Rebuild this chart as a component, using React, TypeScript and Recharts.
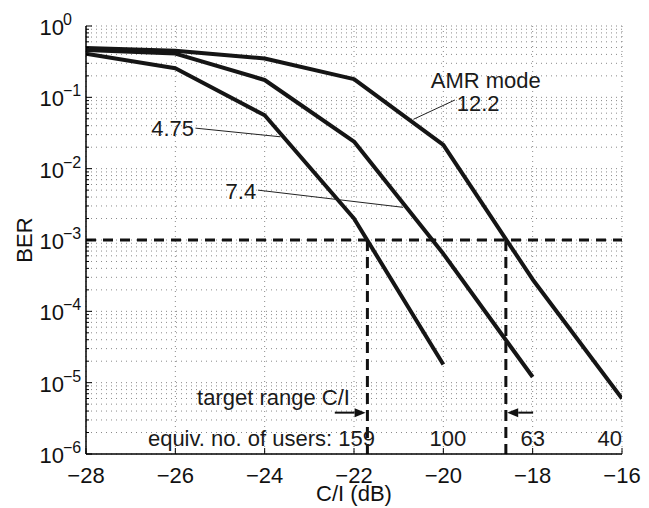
import React from 'react';
import { LineChart, Line, XAxis, YAxis, CartesianGrid, ReferenceLine, ReferenceDot } from 'recharts';

const FONT = '"Liberation Sans", Arial, Helvetica, sans-serif';

// C/I (dB) sample points
const cirDb = [-28, -26, -24, -22, -20, -18, -16];
// BER per AMR mode
const ber475 = [0.41, 0.255, 0.056, 2.0e-3, 1.8e-5];
const ber74 = [0.46, 0.41, 0.175, 0.024, 6.4e-4, 1.2e-5];
const ber122 = [0.49, 0.45, 0.35, 0.18, 0.0215, 2.8e-4, 6.0e-6];

const xTicks = [-28, -26, -24, -22, -20, -18, -16];
const decadeExps = [-6, -5, -4, -3, -2, -1, 0];
const minorMults = [2, 3, 4, 5, 6, 7, 8, 9];

const targetBer = 1e-3;
const targetRange = [-21.7, -18.6];
const userCounts = ['equiv. no. of users: 159', '100', '63', '40'];
const userX = [-21.53, -19.9, -18.0, -16.0];
const userAnchor = ['end', 'middle', 'middle', 'end'];
const userY = 1.29e-6;

const yTicks: number[] = [];
decadeExps.forEach((e) => {
  yTicks.push(Math.pow(10, e));
  if (e < 0) minorMults.forEach((m) => yTicks.push(m * Math.pow(10, e)));
});

const toPts = (ys: number[]) => ys.map((y, i) => ({ x: cirDb[i], y }));
const s475 = toPts(ber475);
const s74 = toPts(ber74);
const s122 = toPts(ber122);

const isDecade = (v: number) => {
  const l = Math.log10(v);
  return Math.abs(l - Math.round(l)) < 1e-9;
};
const minus = (n: number) => (n < 0 ? '\u2212' + Math.abs(n) : String(n));

const BottomTick = (p: any) => {
  const { x, y, payload } = p;
  return (
    <g>
      <line x1={x} y1={y} x2={x} y2={y - 6} stroke="#000" strokeWidth={1} />
      <text x={x} y={y + 29} textAnchor="middle" fontSize={22} fontFamily={FONT} fill="#111">
        {minus(payload.value)}
      </text>
    </g>
  );
};

const TopTick = (p: any) => {
  const { x, y } = p;
  return <line x1={x} y1={y} x2={x} y2={y + 6} stroke="#000" strokeWidth={1} />;
};

const LeftTick = (p: any) => {
  const { x, y, payload } = p;
  const v = payload.value;
  if (!isDecade(v)) return <line x1={x} y1={y} x2={x + 3} y2={y} stroke="#000" strokeWidth={1} />;
  const e = Math.round(Math.log10(v));
  return (
    <g>
      <line x1={x} y1={y} x2={x + 6} y2={y} stroke="#000" strokeWidth={1} />
      <text x={x - 22} y={y + 9} textAnchor="end" fontSize={22} fontFamily={FONT} fill="#111">
        10
      </text>
      <text x={x - 23} y={y - 1} textAnchor="start" fontSize={16} fontFamily={FONT} fill="#111">
        {minus(e)}
      </text>
    </g>
  );
};

const RightTick = (p: any) => {
  const { x, y, payload } = p;
  const len = isDecade(payload.value) ? 6 : 3;
  return <line x1={x} y1={y} x2={x - len} y2={y} stroke="#000" strokeWidth={1} />;
};

const note = (text: string, anchor: string = 'start') => (p: any) => (
  <text x={p.cx} y={p.cy} textAnchor={anchor} fontSize={22} fontFamily={FONT} fill="#1a1a1a">
    {text}
  </text>
);

const arrow = (p: any) => {
  const { x1, y1, x2, y2 } = p;
  const dx = x2 - x1;
  const dy = y2 - y1;
  const len = Math.sqrt(dx * dx + dy * dy) || 1;
  const ux = dx / len;
  const uy = dy / len;
  const hl = 11;
  const hw = 4.5;
  const bx = x2 - ux * hl;
  const by = y2 - uy * hl;
  return (
    <g>
      <line x1={x1} y1={y1} x2={bx} y2={by} stroke="#111" strokeWidth={2} />
      <polygon
        points={`${x2},${y2} ${bx - uy * hw},${by + ux * hw} ${bx + uy * hw},${by - ux * hw}`}
        fill="#111"
      />
    </g>
  );
};

export default function App() {
  return (
    <div style={{ position: 'absolute', left: 0, top: 0, width: 649, height: 508, background: '#fff' }}>
      <LineChart width={649} height={508} margin={{ top: 26, right: 27, bottom: 0, left: 0 }}>
        <CartesianGrid stroke="#8a8a8a" strokeWidth={1} strokeDasharray="1 4" />
        <XAxis
          type="number"
          dataKey="x"
          domain={[-28, -16]}
          ticks={xTicks}
          interval={0}
          allowDataOverflow
          height={54}
          tickSize={0}
          tickMargin={0}
          tickLine={false}
          axisLine={{ stroke: '#000', strokeWidth: 1.5 }}
          tick={BottomTick}
          label={{
            content: (lp: any) => {
              const vb = lp.viewBox || { x: 86, y: 454, width: 536, height: 54 };
              return (
                <text x={vb.x + vb.width / 2} y={vb.y + 47} textAnchor="middle" fontSize={22} fontFamily={FONT} fill="#111">
                  C/I (dB)
                </text>
              );
            },
          }}
        />
        <XAxis
          xAxisId="top"
          orientation="top"
          type="number"
          dataKey="x"
          domain={[-28, -16]}
          ticks={xTicks}
          interval={0}
          allowDataOverflow
          height={0}
          tickSize={0}
          tickMargin={0}
          tickLine={false}
          axisLine={{ stroke: '#000', strokeWidth: 1.5 }}
          tick={TopTick}
        />
        <YAxis
          type="number"
          scale="log"
          domain={[1e-6, 1]}
          ticks={yTicks}
          interval={0}
          allowDataOverflow
          width={86}
          tickSize={0}
          tickMargin={0}
          tickLine={false}
          axisLine={{ stroke: '#000', strokeWidth: 1.5 }}
          tick={LeftTick}
          label={{
            content: (lp: any) => {
              const vb = lp.viewBox || { x: 0, y: 26, width: 86, height: 428 };
              const cx = vb.x + 24;
              const cy = vb.y + vb.height / 2;
              return (
                <text
                  x={cx}
                  y={cy}
                  transform={`rotate(-90 ${cx} ${cy})`}
                  textAnchor="middle"
                  dominantBaseline="central"
                  fontSize={22}
                  fontFamily={FONT}
                  fill="#111"
                >
                  BER
                </text>
              );
            },
          }}
        />
        <YAxis
          yAxisId="right"
          orientation="right"
          type="number"
          scale="log"
          domain={[1e-6, 1]}
          ticks={yTicks}
          interval={0}
          allowDataOverflow
          width={0}
          tickSize={0}
          tickMargin={0}
          tickLine={false}
          axisLine={{ stroke: '#000', strokeWidth: 1.5 }}
          tick={RightTick}
        />

        <ReferenceLine y={targetBer} stroke="#111" strokeWidth={3} strokeDasharray="10 7" />
        {targetRange.map((x) => (
          <ReferenceLine
            key={'v' + x}
            segment={[{ x, y: targetBer }, { x, y: 1e-6 }]}
            stroke="#111"
            strokeWidth={3}
            strokeDasharray="11 6"
          />
        ))}

        <Line data={s475} dataKey="y" type="linear" stroke="#151515" strokeWidth={4} dot={false} isAnimationActive={false} strokeLinejoin="round" />
        <Line data={s74} dataKey="y" type="linear" stroke="#151515" strokeWidth={4} dot={false} isAnimationActive={false} strokeLinejoin="round" />
        <Line data={s122} dataKey="y" type="linear" stroke="#151515" strokeWidth={4} dot={false} isAnimationActive={false} strokeLinejoin="round" />

        {/* leader lines */}
        <ReferenceLine segment={[{ x: -25.55, y: 0.037 }, { x: -23.65, y: 0.028 }]} stroke="#222" strokeWidth={1} />
        <ReferenceLine segment={[{ x: -24.15, y: 0.005 }, { x: -20.9, y: 0.00287 }]} stroke="#222" strokeWidth={1} />
        <ReferenceLine segment={[{ x: -19.74, y: 0.0918 }, { x: -20.67, y: 0.0492 }]} stroke="#222" strokeWidth={1} />

        {/* arrows */}
        <ReferenceLine segment={[{ x: -22.43, y: 3.8e-6 }, { x: -21.74, y: 3.8e-6 }]} shape={arrow} />
        <ReferenceLine segment={[{ x: -17.99, y: 3.8e-6 }, { x: -18.57, y: 3.8e-6 }]} shape={arrow} />

        {/* text annotations */}
        <ReferenceDot x={-25.58} y={0.0287} r={0} ifOverflow="visible" shape={note('4.75', 'end')} />
        <ReferenceDot x={-24.19} y={0.00376} r={0} ifOverflow="visible" shape={note('7.4', 'end')} />
        <ReferenceDot x={-19.05} y={0.135} r={0} ifOverflow="visible" shape={note('AMR mode', 'middle')} />
        <ReferenceDot x={-19.22} y={0.0643} r={0} ifOverflow="visible" shape={note('12.2', 'middle')} />
        <ReferenceDot x={-22.09} y={4.86e-6} r={0} ifOverflow="visible" shape={note('target range C/I', 'end')} />
        {userCounts.map((t, i) => (
          <ReferenceDot key={'u' + i} x={userX[i]} y={userY} r={0} ifOverflow="visible" shape={note(t, userAnchor[i])} />
        ))}
      </LineChart>
    </div>
  );
}
